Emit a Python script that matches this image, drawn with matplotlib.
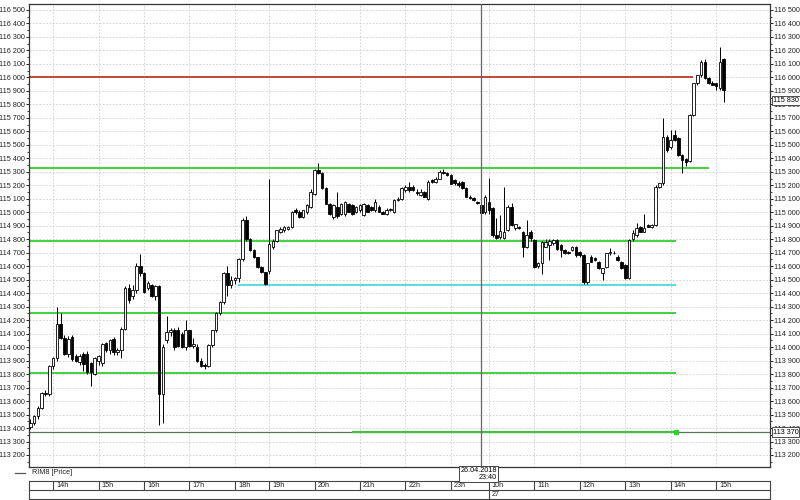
import numpy as np
import matplotlib.pyplot as plt
from matplotlib.ticker import MultipleLocator, FuncFormatter
from matplotlib.lines import Line2D
from matplotlib.transforms import blended_transform_factory

# 5-minute candles, 26.04 13:30 -> 27.04 15:10 (RIM8)
opens = [
    113410, 113440, 113490, 113550, 113660, 113650, 113860, 113920, 114175, 114070,
    113950, 114075, 113937, 113890, 113950, 113950, 113880, 113800, 113900, 113880,
    114030, 113980, 114062, 113965, 113980, 114137, 114437, 114380, 114420, 114600,
    114550, 114440, 114460, 114380, 114450, 113650, 114050, 114110, 114125, 114125,
    114100, 114000, 114125, 114010, 114000, 113900, 113870, 113860, 114012, 114125,
    114250, 114337, 114550, 114460, 114500, 114510, 114650, 114939, 114800, 114720,
    114666, 114591, 114554, 114566, 114740, 114790, 114852, 114865, 114877, 114890,
    115014, 115002, 114964, 115002, 115040, 115138, 115313, 115288, 115176, 115064,
    114964, 115040, 114989, 114989, 115064, 115051, 115002, 115014, 114977, 115051,
    115039, 115014, 115039, 115002, 114989, 115014, 115002, 115089, 115101, 115163,
    115188, 115188, 115150, 115126, 115151, 115101, 115238, 115225, 115250, 115300,
    115288, 115275, 115238, 115214, 115226, 115177, 115115, 115103, 115078, 115053,
    115000, 115078, 115029, 114830, 114815, 114806, 114868, 115041, 114880, 114893,
    114856, 114745, 114856, 114794, 114600, 114621, 114745, 114755, 114770, 114794,
    114757, 114720, 114708, 114720, 114745, 114708, 114683, 114480, 114670, 114658,
    114633, 114547, 114596, 114695, 114700, 114670, 114633, 114609, 114510, 114800,
    114830, 114890, 114855, 114905, 114893, 114905, 115189, 115214, 115560, 115480,
    115570, 115548, 115424, 115395, 115380, 115720, 115956, 116018, 116116, 115993,
    115960, 115956, 115920, 116134,
]
highs = [
    113470, 113500, 113560, 113670, 113680, 113870, 113930, 114300, 114250, 114090,
    114080, 114090, 113950, 113950, 113960, 113970, 113890, 113930, 113940, 114030,
    114040, 114060, 114075, 113990, 114150, 114450, 114470, 114460, 114620, 114690,
    114560, 114490, 114470, 114460, 114460, 114020, 114230, 114140, 114140, 114150,
    114110, 114200, 114130, 114070, 114020, 113920, 113880, 114020, 114130, 114260,
    114340, 114560, 114600, 114530, 114520, 114660, 114960, 114970, 114810, 114730,
    114670, 114600, 114560, 115250, 114800, 114870, 114890, 114900, 114900, 115010,
    115030, 115020, 115020, 115060, 115170, 115320, 115365, 115300, 115190, 115070,
    115060, 115151, 115070, 115080, 115070, 115060, 115045, 115060, 115070, 115060,
    115045, 115095, 115050, 115010, 115030, 115030, 115095, 115110, 115190, 115200,
    115225, 115200, 115170, 115170, 115160, 115240, 115250, 115260, 115310, 115320,
    115295, 115280, 115250, 115230, 115235, 115185, 115127, 115110, 115080, 115060,
    115130, 115251, 115040, 114960, 114980, 115189, 115050, 115066, 114915, 114900,
    114860, 114942, 114870, 114800, 114630, 114790, 114800, 114800, 114800, 114800,
    114765, 114725, 114712, 114750, 114750, 114715, 114690, 114625, 114680, 114665,
    114640, 114590, 114700, 114732, 114710, 114680, 114640, 114615, 114800, 114870,
    114920, 114900, 114990, 114910, 114910, 115200, 115220, 115700, 115570, 115610,
    115610, 115555, 115430, 115405, 115730, 115960, 116020, 116130, 116135, 116000,
    115970, 115960, 116228, 116140,
]
lows = [
    113395, 113420, 113470, 113540, 113640, 113640, 113840, 113900, 114060, 113940,
    113930, 113900, 113890, 113870, 113820, 113800, 113710, 113790, 113870, 113860,
    113960, 113950, 113940, 113940, 113920, 114130, 114330, 114360, 114400, 114530,
    114400, 114420, 114370, 114350, 113420, 113440, 114030, 114080, 113980, 114000,
    113990, 113980, 114000, 113990, 113890, 113850, 113840, 113850, 114000, 114110,
    114240, 114320, 114380, 114440, 114470, 114480, 114640, 114790, 114715, 114660,
    114590, 114550, 114460, 114540, 114730, 114780, 114845, 114850, 114870, 114880,
    114990, 114960, 114955, 114990, 115030, 115130, 115280, 115170, 115060, 114980,
    114950, 114960, 114980, 114975, 115000, 114980, 114995, 115005, 114970, 115000,
    115010, 115005, 115000, 114985, 114980, 115010, 114995, 115080, 115090, 115150,
    115150, 115160, 115130, 115120, 115110, 115090, 115215, 115215, 115245, 115280,
    115270, 115210, 115200, 115190, 115170, 115110, 115100, 115085, 115060, 114985,
    114990, 114990, 114819, 114800, 114805, 114800, 114860, 114900, 114870, 114875,
    114670, 114735, 114790, 114590, 114590, 114545, 114740, 114646, 114760, 114720,
    114670, 114690, 114690, 114710, 114670, 114670, 114470, 114470, 114630, 114640,
    114580, 114498, 114590, 114680, 114690, 114640, 114580, 114505, 114505, 114790,
    114820, 114850, 114850, 114890, 114885, 114900, 115180, 115200, 115450, 115470,
    115530, 115420, 115290, 115340, 115370, 115710, 115940, 116000, 115990, 115950,
    115940, 115906, 115906, 115820,
]
closes = [
    113440, 113490, 113550, 113660, 113650, 113860, 113920, 114175, 114070, 113950,
    114060, 113912, 113900, 113937, 113875, 113812, 113812, 113920, 113935, 114020,
    113980, 114050, 113962, 113980, 114137, 114437, 114350, 114420, 114600, 114550,
    114412, 114475, 114380, 114450, 113650, 114000, 114110, 114125, 114000, 114005,
    114000, 114125, 114010, 114025, 113900, 113860, 113860, 114012, 114125, 114250,
    114337, 114550, 114460, 114500, 114510, 114650, 114939, 114800, 114720, 114666,
    114591, 114554, 114467, 114765, 114790, 114865, 114877, 114890, 114890, 115002,
    115002, 114964, 115014, 115051, 115151, 115313, 115288, 115176, 115064, 114989,
    115051, 114970, 115064, 115076, 115002, 114989, 115039, 115051, 115064, 115002,
    115014, 115076, 115002, 114989, 115014, 115026, 115089, 115101, 115176, 115188,
    115163, 115163, 115140, 115151, 115113, 115225, 115225, 115250, 115300, 115290,
    115275, 115213, 115214, 115200, 115177, 115115, 115103, 115090, 115066, 114992,
    115115, 115016, 114830, 114810, 114860, 114856, 115041, 114905, 114910, 114880,
    114745, 114831, 114806, 114597, 114621, 114782, 114782, 114790, 114794, 114730,
    114720, 114695, 114695, 114745, 114680, 114683, 114480, 114621, 114633, 114646,
    114584, 114584, 114695, 114708, 114695, 114646, 114584, 114510, 114794, 114843,
    114880, 114855, 114880, 114893, 114905, 115189, 115214, 115560, 115461, 115535,
    115535, 115424, 115387, 115375, 115720, 115956, 116018, 116116, 115993, 115956,
    115945, 115935, 116116, 115906,
]

hour_labels = ['14h', '15h', '16h', '17h', '18h', '19h', '20h', '21h',
               '22h', '23h', '10h', '11h', '12h', '13h', '14h', '15h']
hour_index = [6, 18, 30, 42, 54, 63, 75, 87, 99, 111, 121, 133, 145, 157, 169, 181]
day_label = '27'
day_index = 121

level_red = 116000
levels_green = [115325, 114790, 114255, 113810]
level_cyan = 114460
level_low = 113370
last_price = 115830
cursor_index = 119
cursor_text = '26.04.2018\n23:40'

plt.rcParams['font.family'] = ['Liberation Sans', 'DejaVu Sans']
FS = 5.2

W, H = 800, 500
fig = plt.figure(figsize=(8, 5), dpi=100)
fig.patch.set_facecolor('white')


def box(x0, y0, x1, y1):
    return [x0 / W, 1 - y1 / H, (x1 - x0) / W, (y1 - y0) / H]


ax = fig.add_axes(box(29, 4, 770, 467))
xmin, xmax = -0.35, 195.2
ax.set_xlim(xmin, xmax)
ax.set_ylim(113111, 116544)

# grid
ax.set_xticks(hour_index)
ax.tick_params(axis='x', length=0, labelbottom=False)
ax.yaxis.set_major_locator(MultipleLocator(100))
ax.yaxis.set_minor_locator(MultipleLocator(50))
ax.yaxis.set_major_formatter(FuncFormatter(lambda v, p: f"{int(v):,}".replace(',', ' ')))
ax.tick_params(axis='y', which='both', direction='out', left=True, right=True,
               labelleft=True, labelright=True, labelsize=FS, pad=0.5, colors='#222222')
ax.tick_params(axis='y', which='major', length=2.5, width=0.7)
ax.tick_params(axis='y', which='minor', length=1.5, width=0.6)
ax.grid(True, which='major', color='#cdcdcd', linestyle=(0, (2, 2)), linewidth=0.6)
ax.set_axisbelow(True)
for s in ax.spines.values():
    s.set_color('#333333')
    s.set_linewidth(0.9)

# levels
ax.hlines(level_red, xmin, 175, color='#c0392b', lw=1.3, zorder=1)
ax.hlines(levels_green[0], xmin, 179, color='#3fd23f', lw=1.4, zorder=1)
for lv in levels_green[1:]:
    ax.hlines(lv, xmin, 170.4, color='#3fd23f', lw=1.4, zorder=1)
ax.hlines(level_cyan, 54.8, 170.4, color='#55dede', lw=1.4, zorder=1)
ax.hlines(level_low, xmin, xmax, color='#557a55', lw=0.9, zorder=1)
ax.hlines(level_low, 85, 170.4, color='#3fc23f', lw=1.5, zorder=1)
ax.plot([170.4], [level_low], 's', color='#2fd02f', ms=3.5, zorder=2)

# candles
x = np.arange(len(opens))
o = np.array(opens, float)
h = np.array(highs, float)
l = np.array(lows, float)
c = np.array(closes, float)
up = c >= o
ax.vlines(x, l, h, color='black', lw=0.7, zorder=3)
bottom = np.minimum(o, c)
height = np.maximum(np.abs(c - o), 5)
ax.bar(x[up], height[up], bottom=bottom[up], width=0.68, color='white',
       edgecolor='black', linewidth=0.6, zorder=4)
ax.bar(x[~up], height[~up], bottom=bottom[~up], width=0.68, color='black',
       edgecolor='black', linewidth=0.6, zorder=4)

# cursor
ax.axvline(cursor_index, color='#666666', lw=0.9, zorder=5)

# right-side price boxes
tr = blended_transform_factory(ax.transAxes, ax.transData)
for val in (last_price, level_low):
    ax.text(1.0035, val, f"{val:,}".replace(',', ' '), transform=tr, fontsize=FS,
            va='center', ha='left', clip_on=False, zorder=10,
            bbox=dict(boxstyle='square,pad=0.15', fc='white', ec='#333333', lw=0.6))

# legend
fig.add_artist(Line2D([15 / W, 25 / W], [1 - 473 / H] * 2, color='#555555', lw=0.9))
fig.text(32 / W, 1 - 473 / H, 'RIM8 [Price]', fontsize=FS, va='center', ha='left',
         color='#222222')

# time strip
ts = fig.add_axes(box(29, 481, 770, 499))
ts.set_xlim(xmin, xmax)
ts.set_ylim(0, 2)
ts.set_xticks([])
ts.set_yticks([])
for s in ts.spines.values():
    s.set_color('#444444')
    s.set_linewidth(0.8)
ts.axhline(1, color='#444444', lw=0.8)
for idx, lab in zip(hour_index, hour_labels):
    ts.vlines(idx, 1, 2, color='#444444', lw=0.8)
    ts.text(idx + 0.8, 1.5, lab, fontsize=FS, va='center', ha='left', color='#222222')
ts.vlines(day_index, 0, 1, color='#444444', lw=0.8)
ts.text(day_index + 0.8, 0.5, day_label, fontsize=FS, va='center', ha='left',
        color='#222222')

# cursor date box
fig.text(497 / W, 1 - 474 / H, cursor_text, fontsize=5.2, va='center', ha='right',
         multialignment='right', linespacing=1.0, zorder=20,
         bbox=dict(boxstyle='square,pad=0.15', fc='white', ec='#444444', lw=0.7))

fig.savefig('out.png', dpi=100)
